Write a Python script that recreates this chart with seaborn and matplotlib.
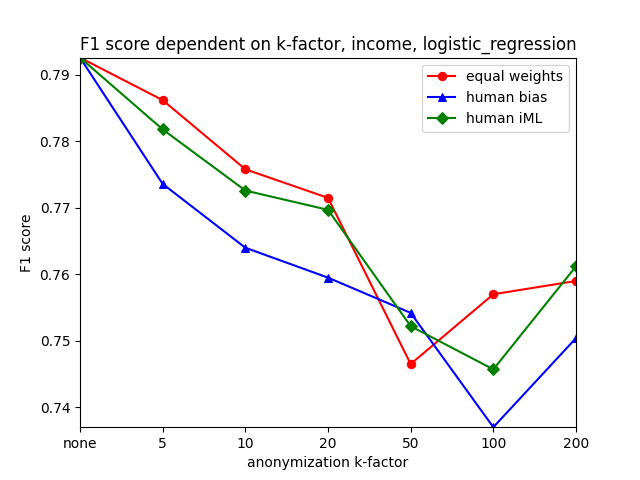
import matplotlib
matplotlib.use("Agg")
import matplotlib.pyplot as plt
import seaborn as sns
import pandas as pd

k_labels = ["none", "5", "10", "20", "50", "100", "200"]
equal_weights = [0.7926, 0.7862, 0.7758, 0.7715, 0.7465, 0.7570, 0.7590]
human_bias = [0.7926, 0.7736, 0.7640, 0.7595, 0.7542, 0.7370, 0.7504]
human_iml = [0.7926, 0.7818, 0.7726, 0.7697, 0.7522, 0.7457, 0.7612]

fig, ax = plt.subplots(figsize=(6.4, 4.8), dpi=100)
x = list(range(len(k_labels)))
series = [("equal weights", equal_weights, "red", "o"),
          ("human bias", human_bias, "blue", "^"),
          ("human iML", human_iml, "green", "D")]
for name, vals, c, m in series:
    df = pd.DataFrame({"x": x, "y": vals})
    sns.lineplot(data=df, x="x", y="y", color=c, marker=m, markersize=6,
                 markeredgecolor=c, label=name, ax=ax)
allv = equal_weights + human_bias + human_iml
ax.set_xlim(0, len(k_labels) - 1)
ax.set_ylim(min(allv), max(allv))
ax.set_xticks(x)
ax.set_xticklabels(k_labels)
ax.set_xlabel("anonymization k-factor")
ax.set_ylabel("F1 score")
ax.set_title("F1 score dependent on k-factor, income, logistic_regression")
ax.legend(loc="upper right")
fig.savefig("out.png", dpi=100)
